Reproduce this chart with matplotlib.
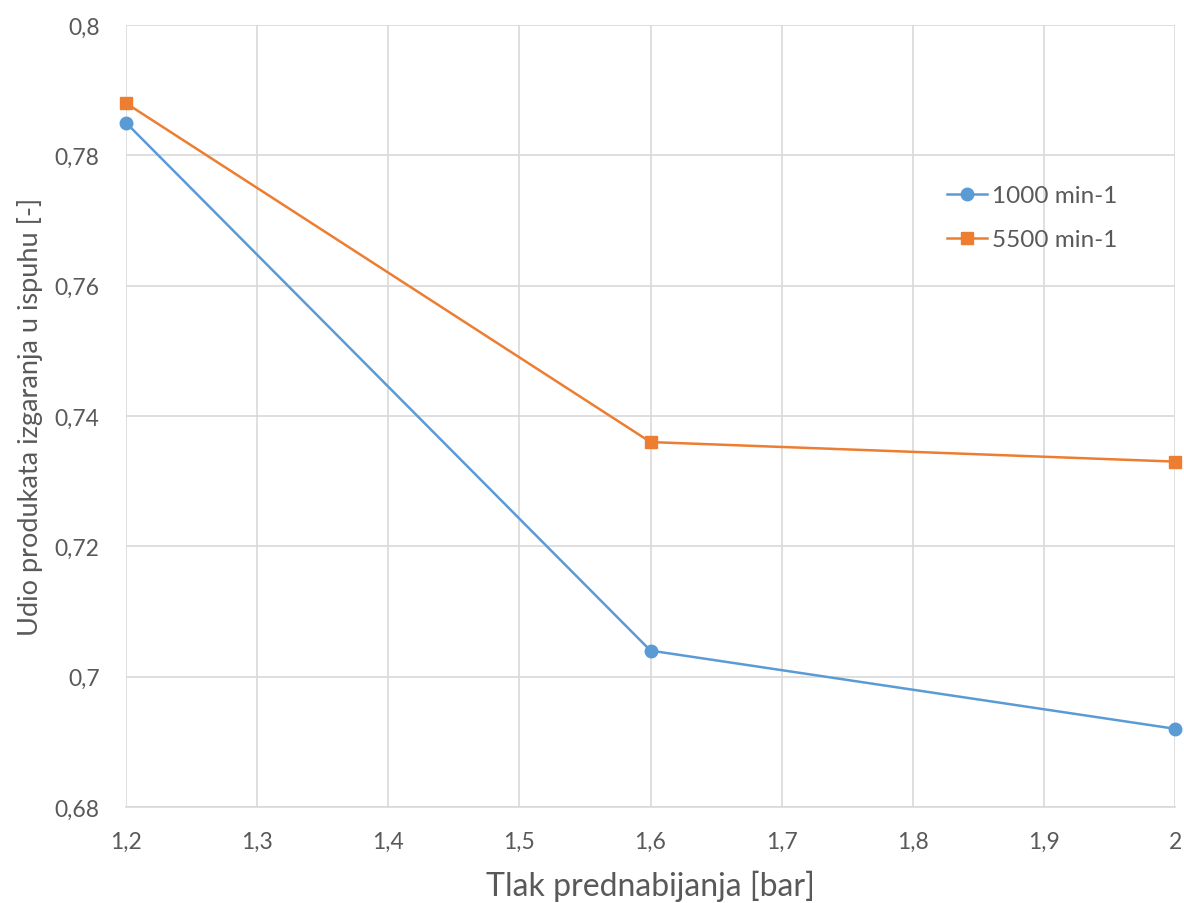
import matplotlib
matplotlib.use("Agg")
import matplotlib.pyplot as plt
from matplotlib.ticker import FuncFormatter

x_values = [1.2, 1.6, 2.0]
series_1000 = [0.785, 0.704, 0.692]
series_5500 = [0.788, 0.736, 0.733]
labels = ["1000 min-1", "5500 min-1"]
x_ticks = [1.2, 1.3, 1.4, 1.5, 1.6, 1.7, 1.8, 1.9, 2.0]
y_ticks = [0.68, 0.70, 0.72, 0.74, 0.76, 0.78, 0.80]

plt.rcParams['font.family'] = ['Lato', 'DejaVu Sans']
text_color = '#595959'

fig = plt.figure(figsize=(11.84, 9.04), dpi=100)
ax = fig.add_axes([126/1184, 1-808/904, (1175-126)/1184, (808-26)/904])

ax.plot(x_values, series_1000, color='#5B9BD5', marker='o', markersize=9,
        linewidth=1.8, label=labels[0], clip_on=False, zorder=3)
ax.plot(x_values, series_5500, color='#ED7D31', marker='s', markersize=8.5,
        linewidth=1.8, label=labels[1], clip_on=False, zorder=3)

ax.set_xlim(1.2, 2.0)
ax.set_ylim(0.68, 0.80)
ax.set_xticks(x_ticks)
ax.set_yticks(y_ticks)

def fmt(v, pos):
    s = ('%.2f' % v).rstrip('0').rstrip('.')
    return s.replace('.', ',')

ax.xaxis.set_major_formatter(FuncFormatter(fmt))
ax.yaxis.set_major_formatter(FuncFormatter(fmt))

ax.grid(True, color='#D9D9D9', linewidth=1.2)
ax.set_axisbelow(True)
for s in ['top', 'right', 'left']:
    ax.spines[s].set_visible(False)
ax.spines['bottom'].set_color('#D9D9D9')
ax.spines['bottom'].set_linewidth(1.2)

ax.tick_params(axis='both', length=0, labelsize=16.5, labelcolor=text_color)
ax.tick_params(axis='x', pad=17)
ax.tick_params(axis='y', pad=19)

ax.set_xlabel('Tlak prednabijanja [bar]', fontsize=23, color=text_color, labelpad=13)
ax.set_ylabel('Udio produkata izgaranja u ispuhu [-]', fontsize=19.5, color=text_color, labelpad=8)

leg = ax.legend(loc='upper left', bbox_to_anchor=(0.762, 0.823), frameon=False,
                fontsize=17.5, labelspacing=0.95, handlelength=1.65, handletextpad=0.2)
for t in leg.get_texts():
    t.set_color(text_color)

fig.savefig('out.png', dpi=100, facecolor='white')
